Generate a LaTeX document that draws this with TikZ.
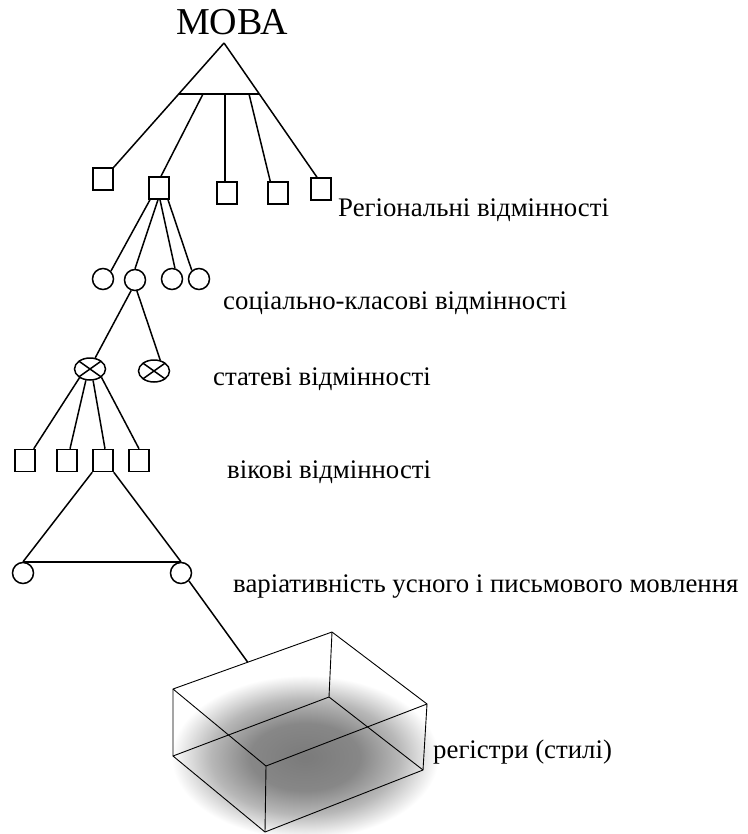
\documentclass[tikz,border=0pt]{standalone}
\usepackage{fontspec}
\setmainfont{Liberation Serif}
\usetikzlibrary{shapes.geometric,calc}
\pgfdeclareradialshading{boxshadow}{\pgfpoint{0bp}{0bp}}{%
  color(0bp)=(black!52); color(7bp)=(black!47); color(12bp)=(black!28); color(17bp)=(white); color(50bp)=(white)}
\begin{document}
\begin{tikzpicture}[x=1pt,y=-1pt,
  ln/.style={line width=1.5pt},
  sq/.style={draw,line width=1.5pt,minimum width=20pt,minimum height=22pt,inner sep=0pt},
  cir/.style={draw,circle,line width=1.5pt,minimum size=21pt,inner sep=0pt},
  xcir/.style={draw,ellipse,line width=1.5pt,minimum width=31pt,minimum height=22pt,inner sep=0pt,
    path picture={\draw[line width=1.5pt] (path picture bounding box.north west)--(path picture bounding box.south east)
      (path picture bounding box.north east)--(path picture bounding box.south west);}},
  lbl/.style={anchor=base west,inner sep=0pt,font=\fontsize{26.8}{30}\selectfont},
  boxedge/.style={line width=0.9pt,line join=round}]
\useasboundingbox (0,0) rectangle (747,834);
% shadow under the box
\shade[shading=boxshadow,rotate around={18:(305,757)}]
  (305,757) ellipse [x radius=190pt,y radius=92pt];

% title and top triangle
\node (moba) [anchor=base,inner sep=0pt,font=\fontsize{38}{42}\selectfont] at (232,35) {МОВА};
\coordinate (apex) at (224,43);
\coordinate (bl) at (179,94);
\coordinate (br) at (259,94);
\coordinate (b2) at (203,94);
\coordinate (b3) at (225,94);
\coordinate (b4) at (249,94);

% regional squares
\node[sq] (s1) at (103,179) {};
\node[sq] (s2) at (159,188) {};
\node[sq] (s3) at (227,193) {};
\node[sq] (s4) at (278,193) {};
\node[sq] (s5) at (321,189) {};

\draw[ln] (bl) -- (br);
\draw[ln] (apex) -- (s1.north east);
\draw[ln] (apex) -- ([xshift=-4pt]s5.north);
\draw[ln] (b2) -- ([xshift=2pt]s2.north);
\draw[ln] (b3) -- (b3 |- s3.north);
\draw[ln] (b4) -- ([xshift=3pt]s4.north west);

% social circles
\node[cir] (c1) at (103,279) {};
\node[cir] (c2) at (135,280) {};
\node[cir] (c3) at (172,279) {};
\node[cir] (c4) at (199,279) {};
\draw[ln] ([xshift=-9pt]s2.south) -- (c1.45);
\draw[ln] ([xshift=-1pt]s2.south) -- (c2.north);
\draw[ln] ([xshift=1pt]s2.south) -- (c3.75);
\draw[ln] ([xshift=9pt]s2.south) -- (c4.130);

% gender crossed circles
\node[xcir] (xa) at (90,369) {};
\node[xcir] (xb) at (154,371) {};
\draw[ln] (c2.-110) -- (xa.65);
\draw[ln] (c2.-80) -- (xb.60);

% age squares
\node[sq] (q1) at (25,460.5) {};
\node[sq] (q2) at (67,460.5) {};
\node[sq] (q3) at (103,460.5) {};
\node[sq] (q4) at (139,460.5) {};
\draw[ln] (xa.-140) -- ([xshift=-2pt]q1.north east);
\draw[ln] (xa.-110) -- ([xshift=3pt]q2.north);
\draw[ln] (xa.-75) -- ([xshift=2pt]q3.north);
\draw[ln] (xa.-36) -- (q4.north);

% oral / written triangle
\node[cir] (ol) at (23,573) {};
\node[cir] (or) at (181,573) {};
\draw[ln] (q3.south west) -- (ol.north);
\draw[ln] (q3.south east) -- (or.north);
\draw[ln] (ol.north) -- (or.north);

% box of registers
\coordinate (p1) at (173,689);
\coordinate (p2) at (332,632);
\coordinate (p3) at (427,704);
\coordinate (p4) at (266,766);
\coordinate (q1b) at (173,756);
\coordinate (q2b) at (329,697);
\coordinate (q3b) at (423,770);
\coordinate (q4b) at (265,832);
\draw[boxedge] (p1) -- (p2) -- (p3) -- (p4) -- cycle;
\draw[boxedge] (q1b) -- (q2b) -- (q3b) -- (q4b) -- cycle;
\draw[boxedge] (p1) -- (q1b) (p2) -- (q2b) (p3) -- (q3b) (p4) -- (q4b);
\coordinate (join) at ($(p1)!0.47!(p2)$);
\draw[ln] (or.-45) -- (join);

% labels
\node[lbl] (l1) at (338,217) {Регіональні відмінності};
\node[lbl] (l2) at (223,309) {соціально-класові відмінності};
\node[lbl] (l3) at (213,385) {статеві відмінності};
\node[lbl] (l4) at (227,478) {вікові відмінності};
\node[lbl] (l5) at (233,592) {варіативність усного і письмового мовлення};
\node[lbl] (l6) at (433,758) {регістри (стилі)};
\end{tikzpicture}
\end{document}
